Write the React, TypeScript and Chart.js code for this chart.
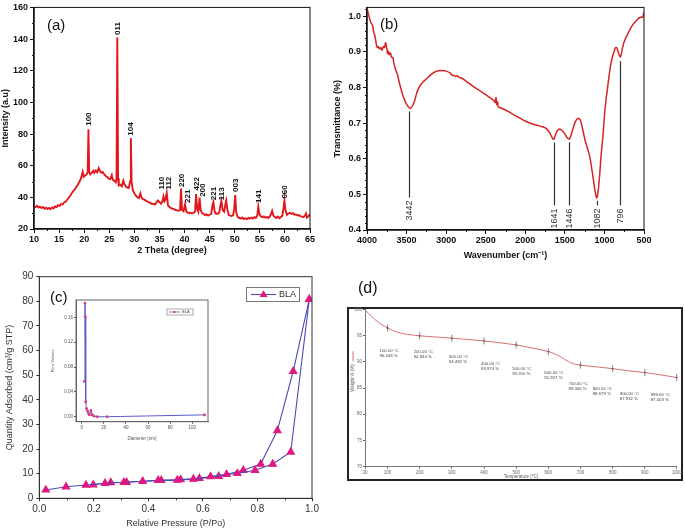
import React, { useEffect, useRef } from 'react';
import { Chart, registerables } from 'chart.js';
Chart.register(...registerables);

const SANS = "'Liberation Sans', Arial, Helvetica, sans-serif";
Chart.defaults.font.family = SANS;

// ---------------- (a) XRD ----------------
const xrdPoints: [number, number][] = [
  [10.0, 34.5], [10.3, 33.8], [10.6, 34.6], [10.9, 33.5], [11.2, 34.1], [11.5, 33.2], [11.8, 33.9], [12.1, 32.8],
  [12.4, 33.5], [12.7, 32.6], [13.0, 33.3], [13.3, 32.5], [13.6, 33.6], [13.9, 33.0], [14.2, 34.2], [14.5, 33.8],
  [14.8, 35.0], [15.1, 34.6], [15.4, 35.8], [15.7, 35.5], [16.0, 36.8], [16.3, 37.2], [16.6, 38.5], [16.9, 39.6],
  [17.2, 40.8], [17.5, 42.5], [17.8, 44.0], [18.1, 44.8], [18.4, 46.5], [18.7, 47.8], [19.0, 49.5], [19.3, 51.5],
  [19.5, 53.5], [19.7, 56.0], [19.9, 53.0], [20.2, 53.8], [20.5, 54.5], [20.7, 56.0], [20.85, 83.0], [21.0, 56.0],
  [21.2, 54.5], [21.5, 55.5], [21.8, 56.8], [22.0, 55.5], [22.3, 57.0], [22.6, 55.8], [22.9, 58.5], [23.1, 57.0],
  [23.4, 55.5], [23.7, 56.0], [24.0, 54.5], [24.3, 53.5], [24.6, 52.8], [24.9, 51.8], [25.2, 51.5], [25.5, 54.0],
  [25.7, 51.0], [26.0, 50.5], [26.3, 49.5], [26.45, 52.0], [26.6, 141.0], [26.75, 52.0], [26.9, 47.5], [27.2, 48.0],
  [27.5, 47.0], [27.8, 50.5], [28.0, 48.5], [28.3, 46.8], [28.6, 46.2], [28.9, 46.0], [29.15, 50.0], [29.3, 77.5],
  [29.45, 50.0], [29.7, 44.5], [30.0, 42.5], [30.3, 41.0], [30.6, 40.0], [30.9, 39.5], [31.2, 42.5], [31.4, 40.0],
  [31.7, 38.8], [32.0, 38.5], [32.3, 37.8], [32.6, 37.5], [32.9, 36.8], [33.2, 36.5], [33.5, 35.8], [33.8, 36.0],
  [34.1, 35.5], [34.4, 36.8], [34.7, 38.0], [35.0, 37.0], [35.3, 36.0], [35.6, 37.5], [35.8, 40.5], [36.0, 37.5],
  [36.2, 38.5], [36.45, 42.8], [36.7, 35.0], [37.0, 33.8], [37.3, 33.2], [37.6, 32.8], [37.9, 32.5], [38.2, 32.0],
  [38.5, 31.8], [38.8, 31.5], [39.1, 32.0], [39.3, 45.5], [39.5, 32.0], [39.8, 31.2], [40.1, 35.5], [40.35, 31.0],
  [40.6, 30.5], [40.9, 30.0], [41.2, 30.3], [41.5, 29.8], [41.8, 30.2], [42.1, 31.0], [42.3, 42.0], [42.5, 33.0],
  [42.75, 31.0], [43.0, 39.8], [43.2, 32.0], [43.5, 30.0], [43.8, 29.5], [44.1, 28.8], [44.4, 29.2], [44.7, 28.5],
  [45.0, 29.0], [45.3, 29.5], [45.6, 35.5], [45.75, 37.0], [46.0, 31.0], [46.3, 29.5], [46.6, 29.8], [46.9, 30.2],
  [47.15, 35.0], [47.35, 37.8], [47.6, 32.0], [47.9, 31.0], [48.1, 35.0], [48.3, 38.0], [48.55, 32.0], [48.8, 29.0],
  [49.1, 28.5], [49.4, 28.2], [49.7, 28.8], [49.9, 33.0], [50.1, 41.5], [50.3, 30.5], [50.6, 27.5], [50.9, 27.0],
  [51.2, 26.5], [51.5, 27.2], [51.8, 26.3], [52.1, 26.8], [52.4, 26.2], [52.7, 27.0], [53.0, 26.5], [53.3, 27.2],
  [53.6, 26.6], [53.9, 27.5], [54.2, 27.0], [54.5, 28.5], [54.7, 34.0], [54.9, 29.5], [55.2, 28.0], [55.5, 27.5],
  [55.8, 28.0], [56.1, 27.2], [56.4, 27.6], [56.7, 27.0], [57.0, 28.0], [57.3, 30.0], [57.45, 31.5], [57.7, 28.5],
  [58.0, 27.5], [58.3, 27.0], [58.6, 27.8], [58.9, 26.8], [59.2, 27.5], [59.5, 28.5], [59.75, 34.0], [59.9, 38.0],
  [60.1, 32.0], [60.4, 29.0], [60.7, 29.8], [61.0, 30.2], [61.3, 29.5], [61.6, 30.0], [61.9, 29.0], [62.2, 29.2],
  [62.5, 28.5], [62.8, 28.8], [63.1, 28.0], [63.4, 27.8], [63.7, 27.5], [64.0, 28.5], [64.2, 29.8], [64.4, 27.2],
  [64.7, 28.0], [65.0, 29.5],
];
const xrdPeakTheta = [20.85, 26.6, 29.35, 35.5, 36.9, 39.4, 40.6, 42.4, 43.6, 45.8, 47.4, 50.2, 54.8, 59.9];
const xrdPeakLabel = ['100', '011', '104', '110', '112', '220', '221', '422', '200', '221', '113', '003', '141', '060'];
const xrdPeakLevel = [85.2, 142.6, 78.9, 44.9, 44.9, 46.5, 36.5, 44.4, 40.3, 38.2, 38.2, 43.4, 36.5, 39.2];
const xrdTicksX = [10, 15, 20, 25, 30, 35, 40, 45, 50, 55, 60, 65];
const xrdTicksY = [20, 40, 60, 80, 100, 120, 140, 160];
const xrdMinorX = [12.5, 17.5, 22.5, 27.5, 32.5, 37.5, 42.5, 47.5, 52.5, 57.5, 62.5];
const xrdMinorY = [30, 50, 70, 90, 110, 130, 150];

// ---------------- (b) FTIR ----------------
const ftirPoints: [number, number][] = [
  [4000, 1.022], [3975, 1.0], [3950, 0.982], [3930, 0.975], [3915, 0.955], [3900, 0.945], [3885, 0.925], [3870, 0.912],
  [3855, 0.915], [3840, 0.908], [3825, 0.912], [3810, 0.905], [3795, 0.915], [3780, 0.912], [3765, 0.926], [3750, 0.91],
  [3740, 0.895], [3730, 0.902], [3720, 0.893], [3705, 0.897], [3690, 0.885], [3675, 0.885], [3660, 0.868], [3645, 0.855],
  [3630, 0.845], [3610, 0.832], [3590, 0.812], [3570, 0.796], [3550, 0.78], [3530, 0.768], [3510, 0.757], [3490, 0.75],
  [3475, 0.745], [3460, 0.742], [3440, 0.744], [3420, 0.751], [3400, 0.762], [3380, 0.778], [3360, 0.792], [3330, 0.805],
  [3290, 0.816], [3250, 0.824], [3200, 0.835], [3150, 0.843], [3100, 0.847], [3050, 0.848], [3000, 0.846], [2950, 0.841],
  [2920, 0.834], [2900, 0.834], [2880, 0.831], [2860, 0.833], [2840, 0.829], [2800, 0.826], [2750, 0.818], [2700, 0.81],
  [2650, 0.802], [2600, 0.795], [2550, 0.787], [2500, 0.78], [2450, 0.772], [2400, 0.764], [2380, 0.758], [2370, 0.772],
  [2360, 0.752], [2350, 0.76], [2340, 0.745], [2320, 0.744], [2300, 0.742], [2250, 0.737], [2200, 0.731], [2150, 0.724],
  [2100, 0.718], [2050, 0.712], [2000, 0.706], [1950, 0.701], [1900, 0.697], [1850, 0.694], [1800, 0.691], [1760, 0.688],
  [1730, 0.684], [1700, 0.676], [1680, 0.668], [1660, 0.659], [1641, 0.654], [1620, 0.666], [1600, 0.677], [1575, 0.683],
  [1550, 0.682], [1520, 0.676], [1495, 0.668], [1470, 0.659], [1446, 0.655], [1425, 0.664], [1400, 0.683], [1375, 0.7],
  [1350, 0.71], [1325, 0.713], [1300, 0.706], [1270, 0.678], [1245, 0.652], [1225, 0.637], [1200, 0.618], [1180, 0.6],
  [1160, 0.572], [1140, 0.542], [1120, 0.512], [1098, 0.49], [1080, 0.508], [1060, 0.555], [1040, 0.615], [1020, 0.66],
  [1000, 0.72], [980, 0.765], [960, 0.8], [940, 0.835], [920, 0.865], [900, 0.885], [880, 0.9], [860, 0.912],
  [845, 0.912], [830, 0.903], [815, 0.892], [799, 0.886], [785, 0.896], [770, 0.913], [755, 0.926], [735, 0.937],
  [715, 0.946], [695, 0.955], [675, 0.964], [655, 0.972], [635, 0.978], [615, 0.983], [595, 0.988], [575, 0.993],
  [555, 0.996], [535, 0.998], [518, 0.997], [500, 1.012],
];
const ftirMarkWn = [3465, 1641, 1446, 1096, 799];
const ftirMarkLabel = ['3442', '1641', '1446', '1082', '796'];
const ftirMarkTop = [0.733, 0.646, 0.646, 0.482, 0.874];
const ftirMarkBottom = [0.491, 0.469, 0.469, 0.469, 0.469];
const ftirTicksX = [4000, 3500, 3000, 2500, 2000, 1500, 1000, 500];
const ftirTicksY = [0.4, 0.5, 0.6, 0.7, 0.8, 0.9, 1.0];
const ftirMinorX = [3750, 3250, 2750, 2250, 1750, 1250, 750];
const ftirMinorY = [0.42, 0.44, 0.46, 0.48, 0.52, 0.54, 0.56, 0.58, 0.62, 0.64, 0.66, 0.68, 0.72, 0.74, 0.76, 0.78,
  0.82, 0.84, 0.86, 0.88, 0.92, 0.94, 0.96, 0.98, 1.02];

// ---------------- (c) BET ----------------
const betAdsP = [0.024, 0.098, 0.171, 0.241, 0.31, 0.379, 0.436, 0.506, 0.565, 0.628, 0.687, 0.726, 0.791, 0.856, 0.922, 0.99];
const betAdsQ = [3.4, 4.7, 5.4, 6.1, 6.5, 6.9, 7.3, 7.4, 7.8, 8.8, 9.7, 10.1, 11.4, 13.9, 18.8, 80.8];
const betDesP = [0.99, 0.931, 0.873, 0.812, 0.748, 0.658, 0.587, 0.518, 0.447, 0.32, 0.262, 0.198];
const betDesQ = [80.8, 51.6, 27.5, 13.9, 11.4, 8.9, 8.1, 7.6, 7.3, 6.5, 6.4, 5.5];
const betTicksX = [0, 0.2, 0.4, 0.6, 0.8, 1.0];
const betTicksY = [0, 10, 20, 30, 40, 50, 60, 70, 80, 90];
const betMinorX = [0.1, 0.3, 0.5, 0.7, 0.9];
const seriesName = 'BLA';

// inset: pore size distribution
const psdDiameter = [2.5, 2.9, 3.2, 3.6, 4.3, 5.3, 6.2, 7.0, 8.3, 9.5, 11, 14, 23, 111];
const psdVolume = [0.057, 0.183, 0.161, 0.024, 0.013, 0.009, 0.005, 0.003, 0.01, 0.003, 0.001, 0.0, 0.0, 0.003];
const psdTicksX = [0, 20, 40, 60, 80, 100];
const psdTicksY = [0, 0.04, 0.08, 0.12, 0.16];

// ---------------- (d) TGA ----------------
const tgaTemp = [30, 40, 50, 60, 70, 80, 90, 100, 115, 130, 150, 175, 200, 250, 300, 350, 400, 450, 500, 550, 580, 600,
  620, 640, 655, 670, 685, 700, 750, 800, 850, 900, 950, 999];
const tgaWeight = [99.8, 99.3, 98.7, 98.1, 97.6, 97.15, 96.8, 96.44, 96.0, 95.65, 95.35, 95.12, 94.94, 94.72, 94.49, 94.25,
  93.97, 93.62, 93.2, 92.62, 92.25, 91.93, 91.5, 90.9, 90.3, 89.8, 89.5, 89.35, 89.03, 88.68, 88.27, 87.93, 87.5, 87.0];
const tgaMarkTemp = [100, 200, 300, 400, 500, 600, 700, 800, 900, 999];
const tgaMarkWeight = [96.443, 94.944, 94.492, 93.974, 93.205, 91.927, 89.346, 88.679, 87.932, 87.003];
const tgaTicksX = [30, 100, 200, 300, 400, 500, 600, 700, 800, 900, 1000];
const tgaTicksY = [70, 75, 80, 85, 90, 95, 100];

// ---------------- helpers ----------------
const setTicks = (vals: number[]) => (s: any) => { s.ticks = vals.map((v) => ({ value: v })); };
const fitW = (w: number) => (s: any) => { s.width = w; };
const fitH = (h: number) => (s: any) => { s.height = h; };
const plain = (v: number) => String(v);

function frame(chart: any, color: string, width: number) {
  const { ctx, chartArea: a } = chart;
  ctx.strokeStyle = color; ctx.lineWidth = width;
  ctx.strokeRect(a.left, a.top, a.right - a.left, a.bottom - a.top);
}
function minor(chart: any, axis: 'x' | 'y', vals: number[], len: number, color: string, width: number) {
  const { ctx, chartArea: a } = chart;
  const s = chart.scales[axis];
  ctx.strokeStyle = color; ctx.lineWidth = width; ctx.beginPath();
  vals.forEach((v) => {
    const p = Math.round(s.getPixelForValue(v)) + 0.5;
    if (axis === 'x') { ctx.moveTo(p, a.bottom); ctx.lineTo(p, a.bottom + len); }
    else { ctx.moveTo(a.left, p); ctx.lineTo(a.left - len, p); }
  });
  ctx.stroke();
}
function triangle(ctx: CanvasRenderingContext2D, x: number, y: number, r: number, color: string) {
  ctx.fillStyle = color; ctx.beginPath();
  ctx.moveTo(x, y - r); ctx.lineTo(x + r * 0.95, y + r * 0.6); ctx.lineTo(x - r * 0.95, y + r * 0.6); ctx.closePath(); ctx.fill();
}

const axisCommon = (color: string, size: number, bold: boolean, tickLen: number, pad: number, cb: (v: number) => string = plain) => ({
  grid: { display: true, drawOnChartArea: false, drawTicks: true, tickLength: tickLen, color, lineWidth: 1 },
  ticks: {
    font: { family: SANS, size, weight: bold ? 'bold' : 'normal' }, color, padding: pad, maxRotation: 0, autoSkip: false,
    callback: (v: any) => cb(Number(v)),
  },
});
const titleOpt = (text: string, size: number, bold: boolean, color: string, padTop: number, padBottom: number) => ({
  display: true, text, color, font: { family: SANS, size, weight: bold ? 'bold' : 'normal' }, padding: { top: padTop, bottom: padBottom },
});
const baseOpts = (padding: any) => ({
  responsive: false, animation: false, events: [], layout: { padding },
  plugins: { legend: { display: false }, tooltip: { enabled: false } },
});

// ---------------- configs ----------------
const makeXrd = () => ({
  type: 'line',
  data: { datasets: [{ data: xrdPoints.map(([x, y]) => ({ x, y })), borderColor: '#e3161c', borderWidth: 1.9, pointRadius: 0, tension: 0 }] },
  options: {
    ...baseOpts({ top: 6, right: 30, left: 0, bottom: 0 }),
    scales: {
      x: { type: 'linear', min: 10, max: 65, afterFit: fitH(29), afterBuildTicks: setTicks(xrdTicksX),
        ...axisCommon('#111', 9, true, 4, 1), border: { color: '#111', width: 1.5 },
        title: titleOpt('2 Theta (degree)', 9, true, '#111', 0, 2) },
      y: { type: 'linear', min: 20, max: 160, afterFit: fitW(34), afterBuildTicks: setTicks(xrdTicksY),
        ...axisCommon('#111', 9, true, 4, 2), border: { color: '#111', width: 1.5 },
        title: titleOpt('Intensity (a.u)', 9, true, '#111', 0, 0) },
    },
  },
  plugins: [{
    id: 'xrdDecor',
    afterDraw(chart: any) {
      const { ctx, scales: { x, y } } = chart;
      ctx.save();
      frame(chart, '#111', 1);
      minor(chart, 'x', xrdMinorX, 2, '#111', 1);
      minor(chart, 'y', xrdMinorY, 2, '#111', 1);
      ctx.fillStyle = '#111'; ctx.font = `bold 8px ${SANS}`; ctx.textAlign = 'left'; ctx.textBaseline = 'middle';
      xrdPeakTheta.forEach((t, i) => {
        ctx.save();
        ctx.translate(x.getPixelForValue(t), y.getPixelForValue(xrdPeakLevel[i]));
        ctx.rotate(-Math.PI / 2);
        ctx.fillText(xrdPeakLabel[i], 0, 0);
        ctx.restore();
      });
      ctx.restore();
    },
  }],
});

const makeFtir = () => ({
  type: 'line',
  data: { datasets: [{ data: ftirPoints.map(([x, y]) => ({ x, y })), borderColor: '#d42424', borderWidth: 1.5, pointRadius: 0, tension: 0.3 }] },
  options: {
    ...baseOpts({ top: 3, right: 41, left: 0, bottom: 0 }),
    scales: {
      x: { type: 'linear', min: 500, max: 4000, reverse: true, afterFit: fitH(32), afterBuildTicks: setTicks(ftirTicksX),
        ...axisCommon('#111', 9, true, 4, 1), border: { color: '#111', width: 1.5 },
        title: titleOpt('Wavenumber (cm\u207B\u00B9)', 9, true, '#111', 0, 1) },
      y: { type: 'linear', min: 0.4, max: 1.025, afterFit: fitW(39), afterBuildTicks: setTicks(ftirTicksY),
        ...axisCommon('#111', 9, true, 4, 2, (v) => v.toFixed(1)), border: { color: '#111', width: 1.5 },
        title: titleOpt('Transmittance (%)', 9, true, '#111', 4, 0) },
    },
  },
  plugins: [{
    id: 'ftirDecor',
    afterDraw(chart: any) {
      const { ctx, scales: { x, y } } = chart;
      ctx.save();
      frame(chart, '#111', 1);
      minor(chart, 'x', ftirMinorX, 2, '#111', 1);
      minor(chart, 'y', ftirMinorY, 2, '#111', 1);
      ctx.strokeStyle = '#333'; ctx.lineWidth = 1.2;
      ftirMarkWn.forEach((w, i) => {
        const px = Math.round(x.getPixelForValue(w)) + 0.5;
        ctx.beginPath(); ctx.moveTo(px, y.getPixelForValue(ftirMarkTop[i])); ctx.lineTo(px, y.getPixelForValue(ftirMarkBottom[i])); ctx.stroke();
        ctx.save();
        ctx.fillStyle = '#333'; ctx.font = `9px ${SANS}`; ctx.textAlign = 'right'; ctx.textBaseline = 'middle';
        ctx.translate(px, y.getPixelForValue(ftirMarkBottom[i]) + 3);
        ctx.rotate(-Math.PI / 2);
        ctx.fillText(ftirMarkLabel[i], 0, 0);
        ctx.restore();
      });
      ctx.restore();
    },
  }],
});

const BET_LINE = '#4a4ab6';
const BET_MARK = '#e2177f';
const makeBet = () => ({
  type: 'line',
  data: {
    datasets: [
      { label: seriesName, data: betAdsP.map((p, i) => ({ x: p, y: betAdsQ[i] })), borderColor: BET_LINE, borderWidth: 1.1,
        pointStyle: 'triangle', pointRadius: 4.2, pointBackgroundColor: BET_MARK, pointBorderColor: BET_MARK, tension: 0 },
      { label: seriesName, data: betDesP.map((p, i) => ({ x: p, y: betDesQ[i] })), borderColor: BET_LINE, borderWidth: 1.1,
        pointStyle: 'triangle', pointRadius: 4.2, pointBackgroundColor: BET_MARK, pointBorderColor: BET_MARK, tension: 0 },
    ],
  },
  options: {
    ...baseOpts({ top: 14.7, right: 28, left: 0, bottom: 0 }),
    scales: {
      x: { type: 'linear', min: 0, max: 1, afterFit: fitH(31.7), afterBuildTicks: setTicks(betTicksX),
        ...axisCommon('#333', 10, false, 3, 2, (v) => v.toFixed(1)), border: { color: '#333', width: 1 },
        title: titleOpt('Relative Pressure (P/Po)', 9, false, '#333', 0, 1) },
      y: { type: 'linear', min: 0, max: 90, afterFit: fitW(39.3), afterBuildTicks: setTicks(betTicksY),
        ...axisCommon('#333', 10, false, 3, 3), border: { color: '#333', width: 1 },
        title: titleOpt('Quantity Adsorbed (cm\u00B3/g STP)', 9, false, '#333', 4.6, 0) },
    },
  },
  plugins: [{
    id: 'betDecor',
    afterDraw(chart: any) {
      const { ctx, chartArea: a } = chart;
      ctx.save();
      frame(chart, '#333', 1);
      minor(chart, 'x', betMinorX, 2, '#333', 1);
      const bx = a.right - 66, by = a.top + 10.3, bw = 53, bh = 14;
      ctx.strokeStyle = '#777'; ctx.lineWidth = 1; ctx.strokeRect(bx + 0.5, by + 0.5, bw, bh);
      ctx.strokeStyle = BET_LINE; ctx.lineWidth = 1.1;
      ctx.beginPath(); ctx.moveTo(bx + 5, by + bh / 2 + 0.5); ctx.lineTo(bx + 30, by + bh / 2 + 0.5); ctx.stroke();
      triangle(ctx, bx + 17.5, by + bh / 2 + 0.5, 4.2, BET_MARK);
      ctx.fillStyle = '#333'; ctx.font = `9px ${SANS}`; ctx.textAlign = 'left'; ctx.textBaseline = 'middle';
      ctx.fillText(seriesName, bx + 33, by + bh / 2 + 1);
      ctx.restore();
    },
  }],
});

const makePsd = () => ({
  type: 'line',
  data: { datasets: [{ data: psdDiameter.map((d, i) => ({ x: d, y: psdVolume[i] })), borderColor: '#5a5ad0', borderWidth: 1,
    pointStyle: 'rect', pointRadius: 1.2, pointBackgroundColor: '#d04080', pointBorderColor: '#d04080', tension: 0 }] },
  options: {
    ...baseOpts({ top: 4, right: 7, left: 0, bottom: 0 }),
    scales: {
      x: { type: 'linear', min: -5.2, max: 114.2, afterFit: fitH(23.3), afterBuildTicks: setTicks(psdTicksX),
        ...axisCommon('#555', 4.5, false, 2, 1), border: { color: '#666', width: 1 },
        title: titleOpt('Diameter (nm)', 4.5, false, '#555', 0, 3.3) },
      y: { type: 'linear', min: -0.008, max: 0.188, afterFit: fitW(26), afterBuildTicks: setTicks(psdTicksY),
        ...axisCommon('#555', 4.5, false, 2, 1, (v) => v.toFixed(2)), border: { color: '#666', width: 1 },
        title: titleOpt('Pore Volume', 4, false, '#555', 0.5, 0) },
    },
  },
  plugins: [{
    id: 'psdDecor',
    afterDraw(chart: any) {
      const { ctx, chartArea: a } = chart;
      ctx.save();
      frame(chart, '#666', 1);
      const bx = a.right - 41, by = a.top + 9, bw = 26, bh = 6;
      ctx.strokeStyle = '#888'; ctx.lineWidth = 0.7; ctx.strokeRect(bx, by, bw, bh);
      ctx.strokeStyle = '#5a5ad0'; ctx.lineWidth = 0.8;
      ctx.beginPath(); ctx.moveTo(bx + 2, by + bh / 2); ctx.lineTo(bx + 13, by + bh / 2); ctx.stroke();
      ctx.fillStyle = '#d04080'; ctx.fillRect(bx + 6.5, by + bh / 2 - 1, 2, 2);
      ctx.fillStyle = '#444'; ctx.font = `4px ${SANS}`; ctx.textAlign = 'left'; ctx.textBaseline = 'middle';
      ctx.fillText(seriesName, bx + 15, by + bh / 2 + 0.3);
      ctx.restore();
    },
  }],
});

const tgaLabelDx = [-8, -6, -3, -3, -4, -4, -12, -20, -25, -26];
const tgaLabelDy = [21, 14, 16, 21, 22, 19, 16, 18, 19, 15];
const makeTga = () => ({
  type: 'line',
  data: { datasets: [{ data: tgaTemp.map((t, i) => ({ x: t, y: tgaWeight[i] })), borderColor: '#d97070', borderWidth: 1, pointRadius: 0, tension: 0.35 }] },
  options: {
    ...baseOpts({ top: 6.3, right: 4, left: 0, bottom: 0 }),
    scales: {
      x: { type: 'linear', min: 30, max: 1000, afterFit: fitH(14.3), afterBuildTicks: setTicks(tgaTicksX),
        ...axisCommon('#666', 4.5, false, 2, 1), border: { color: '#777', width: 1 },
        title: titleOpt('Temperature (\u00B0C)', 4.5, false, '#555', 0, 1.3) },
      y: { type: 'linear', min: 70, max: 100, afterFit: fitW(18), afterBuildTicks: setTicks(tgaTicksY),
        ...axisCommon('#666', 4.5, false, 2, 1), border: { color: '#777', width: 1 },
        title: { display: false } },
    },
  },
  plugins: [{
    id: 'tgaDecor',
    afterDraw(chart: any) {
      const { ctx, chartArea: a, scales: { x, y } } = chart;
      ctx.save();
      // y title with a short legend line
      ctx.save();
      ctx.translate(6, (a.top + a.bottom) / 2 - 10);
      ctx.rotate(-Math.PI / 2);
      ctx.font = `4.5px ${SANS}`; ctx.fillStyle = '#555'; ctx.textAlign = 'center'; ctx.textBaseline = 'middle';
      const title = 'Weight % (%)';
      ctx.fillText(title, 0, 0);
      const tw = ctx.measureText(title).width;
      ctx.strokeStyle = '#d97070'; ctx.lineWidth = 1;
      ctx.beginPath(); ctx.moveTo(tw / 2 + 3, 0); ctx.lineTo(tw / 2 + 13, 0); ctx.stroke();
      ctx.restore();
      // markers and labels
      ctx.strokeStyle = '#666'; ctx.lineWidth = 0.8;
      ctx.fillStyle = '#444'; ctx.font = `4.3px ${SANS}`; ctx.textAlign = 'left'; ctx.textBaseline = 'top';
      tgaMarkTemp.forEach((t, i) => {
        const px = x.getPixelForValue(t), py = y.getPixelForValue(tgaMarkWeight[i]);
        ctx.beginPath(); ctx.moveTo(px, py - 3.5); ctx.lineTo(px, py + 3.5); ctx.moveTo(px - 1.5, py); ctx.lineTo(px + 1.5, py); ctx.stroke();
        const lx = px + tgaLabelDx[i], ly = py + tgaLabelDy[i];
        ctx.fillText(`${t.toFixed(2)} \u00B0C`, lx, ly);
        ctx.fillText(`${tgaMarkWeight[i].toFixed(3)} %`, lx, ly + 5);
      });
      ctx.restore();
    },
  }],
});

function ChartBox({ make, left, top, width, height }: any) {
  const ref = useRef<HTMLCanvasElement>(null);
  useEffect(() => {
    const chart = new Chart(ref.current as HTMLCanvasElement, make());
    return () => chart.destroy();
  }, []);
  return <canvas ref={ref} width={width} height={height} style={{ position: 'absolute', left, top, width, height }} />;
}

const letterStyle = (left: number, top: number, size: number): React.CSSProperties => ({
  position: 'absolute', left, top, fontFamily: SANS, fontSize: size, lineHeight: `${size + 2}px`, color: '#111',
});

export default function App() {
  return (
    <div style={{ position: 'absolute', left: 0, top: 0, width: 685, height: 530, background: '#fff', overflow: 'hidden' }}>
      <ChartBox make={makeXrd} left={0} top={0} width={340} height={258} />
      <ChartBox make={makeFtir} left={328} top={0} width={357} height={262} />
      <ChartBox make={makeBet} left={0} top={262} width={340} height={268} />
      <ChartBox make={makePsd} left={50} top={295} width={165} height={150} />
      <div style={{ position: 'absolute', left: 347, top: 307, width: 336, height: 174, boxSizing: 'border-box', border: '2px solid #222' }} />
      <ChartBox make={makeTga} left={347} top={303} width={336} height={178} />
      <div style={letterStyle(47, 16, 15)}>(a)</div>
      <div style={letterStyle(380, 15, 15)}>(b)</div>
      <div style={letterStyle(50, 288, 15)}>(c)</div>
      <div style={letterStyle(358, 279, 16)}>(d)</div>
    </div>
  );
}
